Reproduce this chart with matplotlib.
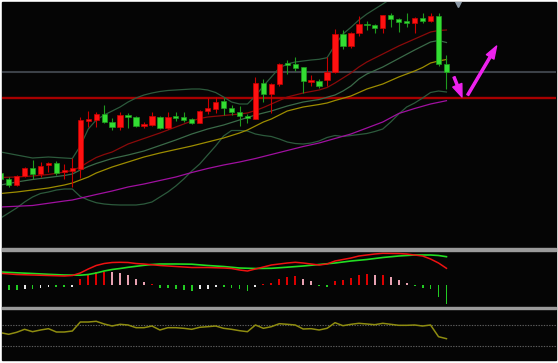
import matplotlib

matplotlib.use("Agg")
import matplotlib.pyplot as plt
import numpy as np
from matplotlib.patches import Rectangle

# --------------------------------------------------------------------------- #
# Data
# --------------------------------------------------------------------------- #
OPEN = [7.70, 7.10, 6.50, 7.40, 8.20, 7.57, 8.47, 8.70, 7.80, 7.87,
        8.13, 12.93, 13.00, 13.60, 12.83, 12.33, 13.50, 13.33, 12.40, 12.50,
        13.33, 12.17, 13.40, 13.27, 13.07, 12.73, 13.90, 14.10, 14.90, 14.20,
        13.85, 13.43, 13.10, 16.67, 15.57, 16.57, 18.67, 18.57, 18.33, 16.83,
        16.90, 17.00, 17.80, 21.57, 20.43, 21.67, 22.65, 22.47, 22.17, 23.47,
        23.07, 22.83, 22.73, 23.17, 22.90, 23.43, 18.57]
HIGH = [7.90, 7.30, 7.50, 8.30, 9.00, 8.80, 8.83, 8.90, 8.60, 9.20,
        13.30, 13.93, 13.83, 14.50, 13.20, 13.77, 13.67, 13.40, 12.83, 13.77,
        13.40, 13.83, 13.83, 13.77, 13.20, 14.00, 15.20, 15.30, 15.17, 14.50,
        14.40, 13.60, 17.33, 17.10, 16.67, 18.67, 19.05, 19.27, 18.33, 17.55,
        17.10, 19.33, 22.07, 22.00, 21.83, 23.40, 22.93, 22.60, 23.53, 23.67,
        23.17, 23.73, 23.27, 23.67, 23.73, 23.67, 19.50]
LOW = [6.90, 6.30, 6.45, 7.35, 7.10, 7.30, 7.83, 7.50, 7.10, 6.30,
       7.20, 12.27, 12.30, 12.70, 12.00, 12.00, 12.17, 12.33, 12.17, 12.43,
       12.10, 12.10, 12.93, 12.83, 12.63, 12.67, 13.60, 13.67, 13.50, 13.50,
       12.43, 12.67, 13.10, 14.83, 13.67, 16.45, 17.60, 17.90, 15.67, 16.40,
       16.20, 16.45, 17.70, 20.10, 20.20, 21.40, 22.00, 21.67, 21.67, 22.27,
       21.83, 22.27, 21.67, 22.67, 22.83, 18.43, 16.07]
CLOSE = [7.10, 6.53, 7.40, 8.20, 7.60, 8.43, 8.73, 7.73, 8.00, 8.20,
         13.00, 13.07, 13.60, 12.83, 12.33, 13.50, 13.27, 12.43, 12.57, 13.40,
         12.17, 13.33, 13.17, 13.00, 12.73, 13.93, 14.17, 14.83, 14.17, 13.83,
         13.40, 13.17, 16.67, 15.65, 16.58, 18.57, 18.53, 18.25, 16.90, 17.00,
         16.40, 17.83, 21.57, 20.43, 21.73, 22.60, 22.47, 22.17, 23.47, 23.07,
         22.77, 22.70, 23.17, 22.87, 23.40, 18.57, 17.83]

# Bollinger bands (candle index, price)
BB_UP_IDX = [0, 2, 4, 6, 8, 9, 10, 11, 12, 13, 14, 15, 16, 17, 18, 19, 20, 21,
             22, 23, 24, 25, 26, 27, 28, 29, 30, 31, 32, 33, 34, 35, 36, 37, 38,
             39, 40, 41, 42, 43, 44, 45, 46, 47, 48, 49, 50]
BB_UP = [9.80, 9.50, 9.20, 9.30, 9.20, 9.15, 10.40, 12.10, 13.00, 13.50, 13.90,
         14.30, 14.80, 15.20, 15.50, 15.70, 15.85, 15.95, 16.00, 16.05, 16.10,
         16.10, 16.00, 15.75, 15.30, 14.80, 14.60, 14.60, 15.40, 16.40, 17.30,
         18.20, 18.60, 18.80, 18.90, 19.00, 19.07, 19.23, 20.50, 21.60, 22.27,
         23.00, 23.60, 24.10, 24.60, 25.10, 25.50]
BB_LOW_IDX = list(range(57))
BB_LOW = [3.20, 3.70, 4.20, 4.80, 5.30, 5.65, 5.80, 6.00, 6.10, 6.10,
          5.35, 5.00, 4.73, 4.60, 4.53, 4.50, 4.50, 4.50, 4.60, 4.80,
          5.30, 5.80, 6.40, 7.10, 7.90, 8.60, 9.50, 10.40, 11.40, 11.95,
          11.95, 11.90, 11.60, 11.45, 11.35, 11.10, 10.80, 10.65, 10.60, 10.70,
          10.90, 11.25, 11.45, 11.35, 11.45, 11.55, 11.65, 11.85, 12.10, 12.80,
          13.60, 14.30, 14.70, 15.20, 15.75, 15.90, 15.80]
BB_MID_IDX = [0, 2, 4, 6, 8, 9, 10, 11, 12, 13, 14, 16, 18, 20, 22, 24, 26, 28,
              30, 32, 34, 36, 38, 40, 42, 43, 44, 45, 46, 48, 50, 52, 54, 55, 56]
BB_MID = [6.50, 6.80, 7.05, 7.25, 7.45, 7.60, 8.00, 8.35, 8.65, 8.90, 9.15,
          9.50, 9.90, 10.45, 11.00, 11.60, 12.10, 12.50, 13.00, 13.50, 13.90,
          14.40, 14.80, 15.05, 15.50, 15.90, 16.40, 17.10, 17.60, 18.30, 19.15,
          20.00, 20.80, 20.95, 20.75]

# moving averages (candle index, price)
MA_RED_IDX = [0, 2, 4, 6, 8, 9, 10, 11, 12, 13, 14, 16, 18, 20, 22, 24, 25, 26,
              28, 30, 31, 32, 33, 34, 36, 38, 40, 41, 42, 43, 44, 45, 46, 47, 48,
              50, 52, 54, 55, 56]
MA_RED = [7.25, 7.30, 7.40, 7.55, 7.80, 7.95, 8.30, 8.80, 9.25, 9.55, 9.80,
          10.60, 11.15, 11.70, 12.30, 12.90, 13.15, 13.30, 13.45, 13.60, 13.70,
          13.95, 14.25, 14.60, 15.30, 15.70, 16.00, 16.25, 16.70, 17.20, 17.70,
          18.30, 18.80, 19.20, 19.60, 20.40, 21.10, 21.80, 21.95, 22.00]
MA_YEL_IDX = [0, 2, 4, 6, 8, 9, 10, 11, 12, 14, 16, 18, 20, 22, 24, 26, 28, 30,
              31, 32, 33, 34, 35, 36, 38, 40, 41, 42, 44, 46, 48, 50, 52, 53, 54,
              55, 56]
MA_YEL = [5.65, 5.80, 6.00, 6.20, 6.50, 6.70, 7.00, 7.30, 7.70, 8.30, 8.80,
          9.30, 9.70, 10.05, 10.40, 10.80, 11.20, 11.70, 12.00, 12.40, 12.80,
          13.10, 13.50, 13.90, 14.30, 14.55, 14.70, 14.95, 15.40, 16.10, 16.60,
          17.30, 17.90, 18.25, 18.70, 18.90, 19.05]
MA_MAG_IDX = [0, 4, 8, 9, 12, 14, 16, 18, 20, 22, 24, 26, 28, 30, 32, 34, 36,
              38, 40, 42, 44, 46, 48, 50, 52, 54, 56]
MA_MAG = [4.30, 4.45, 4.90, 5.00, 5.55, 5.90, 6.30, 6.60, 6.95, 7.30, 7.75,
          8.15, 8.50, 8.80, 9.15, 9.55, 9.95, 10.35, 10.70, 11.15, 11.60, 12.20,
          12.80, 13.65, 14.15, 14.60, 14.93]

LEVEL_GREY = 17.83
LEVEL_RED = 15.22

# MACD
DIF_IDX = [0, 2, 4, 6, 8, 9, 10, 11, 12, 13, 14, 15, 16, 17, 18, 20, 22, 24, 26,
           28, 29, 30, 31, 32, 33, 34, 35, 36, 37, 38, 39, 40, 41, 42, 43, 44,
           45, 46, 47, 48, 50, 51, 52, 53, 54, 55, 56]
DIF = [0.117, 0.105, 0.100, 0.095, 0.090, 0.095, 0.120, 0.160, 0.195, 0.215,
       0.225, 0.227, 0.225, 0.215, 0.210, 0.195, 0.185, 0.175, 0.175, 0.170,
       0.165, 0.150, 0.140, 0.160, 0.180, 0.200, 0.210, 0.220, 0.227, 0.220,
       0.210, 0.200, 0.210, 0.240, 0.255, 0.270, 0.290, 0.300, 0.310, 0.317,
       0.315, 0.310, 0.300, 0.290, 0.260, 0.220, 0.167]
DEA_IDX = [0, 2, 4, 6, 8, 10, 11, 12, 13, 14, 15, 16, 17, 18, 19, 20, 22, 24,
           26, 28, 30, 32, 34, 36, 38, 40, 42, 44, 46, 48, 50, 52, 54, 55, 56]
DEA = [0.130, 0.122, 0.115, 0.107, 0.100, 0.098, 0.105, 0.120, 0.140, 0.155,
       0.165, 0.177, 0.187, 0.197, 0.205, 0.210, 0.210, 0.208, 0.195, 0.185,
       0.170, 0.165, 0.167, 0.178, 0.190, 0.205, 0.220, 0.240, 0.255, 0.275,
       0.290, 0.300, 0.300, 0.295, 0.283]
HIST_IDX = list(range(1, 57))
HIST = [-0.050, -0.050, -0.043, -0.043, -0.033, -0.017, -0.023, -0.023, -0.023,
        0.057, 0.100, 0.133, 0.127, 0.127, 0.123, 0.100, 0.060, 0.027, 0.010,
        -0.033, -0.033, -0.040, -0.050, -0.057, -0.043, -0.037, -0.017, -0.017,
        -0.033, -0.043, -0.057, -0.017, 0.010, 0.023, 0.057, 0.083, 0.090,
        0.060, 0.040, -0.007, -0.017, 0.040, 0.050, 0.073, 0.100, 0.110, 0.100,
        0.100, 0.077, 0.050, 0.023, -0.010, -0.033, -0.043, -0.123, -0.193]
HIST_KIND = "ggwgwwggwrrrrppppprgggggwwwggggwrrrrrppggrrrrrprpppggggg"

# lower oscillator
OSC = [57.7, 53.0, 58.8, 67.5, 60.6, 65.5, 69.3, 59.7, 59.7, 62.6,
       88.7, 88.7, 90.7, 82.9, 77.1, 82.0, 80.0, 72.2, 72.2, 77.1,
       65.5, 72.2, 72.2, 70.4, 67.5, 73.3, 75.1, 77.1, 70.4, 67.5,
       63.5, 60.6, 80.0, 70.4, 75.1, 83.8, 82.0, 80.0, 68.4, 69.3,
       65.5, 70.4, 86.7, 78.0, 82.0, 84.9, 82.9, 80.9, 84.9, 82.0,
       79.1, 79.1, 80.0, 77.1, 80.0, 46.1, 40.3]
OSC_LEVELS = [80, 20]

# annotation arrows (index, price) and top marker
ARROW_DOWN = ((56.95, 17.3), (57.95, 15.3))
ARROW_UP = ((58.67, 15.5), (62.3, 20.4))
TOP_MARK = (57.45, 24.75)

# --------------------------------------------------------------------------- #
# Theme
# --------------------------------------------------------------------------- #
BG = "#050505"
SEP = "#9b9b9b"
UP_FACE, UP_EDGE = "#ff1111", "#c80000"
DN_FACE, DN_EDGE = "#33dd33", "#1e9a1e"
BB_COL = "#2c5a3c"
BB_MID_COL = "#3a6a48"
MA_RED_COL = "#8a0a0a"
MA_YEL_COL = "#9c8c00"
MA_MAG_COL = "#a010a0"
MAGENTA = "#ee22ee"
HIST_COLORS = {"g": "#22cc22", "w": "#e8e8e8", "r": "#dd0000", "p": "#e8a2b2"}

W, H = 558, 363
X0_PX, STEP_PX = 0.7, 7.96


def px_axes(fig, top, bottom):
    ax = fig.add_axes([2 / W, (H - bottom) / H, 554 / W, (bottom - top) / H])
    ax.set_axis_off()
    ax.set_xlim((2 - X0_PX) / STEP_PX, (556 - X0_PX) / STEP_PX)
    return ax


fig = plt.figure(figsize=(W / 100, H / 100), dpi=100, facecolor="white")
fig.add_artist(Rectangle((2 / W, 3 / H), 554 / W, 358 / H, transform=fig.transFigure,
                         color=BG, zorder=-5))
for y0, y1 in [(248.3, 250.7), (306.8, 309.1)]:
    fig.add_artist(Rectangle((2 / W, (H - y1) / H), 554 / W, (y1 - y0) / H,
                             transform=fig.transFigure, color=SEP, zorder=1))

# ---- main price panel ----
ax = px_axes(fig, 2, 248)
ax.set_ylim(0.2, 24.8)

ax.axhline(LEVEL_GREY, color="#3c4148", lw=1.5, zorder=1)
ax.axhline(LEVEL_RED, color="#a80000", lw=1.7, zorder=1)

ax.plot(BB_UP_IDX, BB_UP, color=BB_COL, lw=0.9, zorder=2)
ax.plot(BB_LOW_IDX, BB_LOW, color=BB_COL, lw=0.9, zorder=2)
ax.plot(BB_MID_IDX, BB_MID, color=BB_MID_COL, lw=0.9, zorder=2)
ax.plot(MA_RED_IDX, MA_RED, color=MA_RED_COL, lw=0.9, zorder=2)
ax.plot(MA_YEL_IDX, MA_YEL, color=MA_YEL_COL, lw=0.9, zorder=2)
ax.plot(MA_MAG_IDX, MA_MAG, color=MA_MAG_COL, lw=0.9, zorder=2)

o, h, l, c = map(np.asarray, (OPEN, HIGH, LOW, CLOSE))
idx = np.arange(len(o))
up = c >= o
ax.vlines(idx[up], l[up], h[up], color=UP_EDGE, lw=0.8, zorder=3)
ax.vlines(idx[~up], l[~up], h[~up], color=DN_EDGE, lw=0.8, zorder=3)
body_lo = np.minimum(o, c)
body_h = np.maximum(np.abs(c - o), 0.15)
ax.bar(idx[up], body_h[up], bottom=body_lo[up], width=0.67, color=UP_FACE,
       edgecolor=UP_EDGE, linewidth=0.5, zorder=4)
ax.bar(idx[~up], body_h[~up], bottom=body_lo[~up], width=0.67, color=DN_FACE,
       edgecolor=DN_EDGE, linewidth=0.5, zorder=4)

for tail, tip, hw in [(ARROW_DOWN[0], ARROW_DOWN[1], 1.0), (ARROW_UP[0], ARROW_UP[1], 0.9)]:
    ax.annotate("", xy=tip, xytext=tail,
                arrowprops=dict(arrowstyle=f"simple,head_length=1.3,head_width={hw},tail_width=0.22",
                                color=MAGENTA, shrinkA=0, shrinkB=0, mutation_scale=7),
                zorder=5)
ax.plot([TOP_MARK[0]], [TOP_MARK[1]], marker="v", ms=6, color="#8c99a6", zorder=5)

# ---- MACD panel ----
am = px_axes(fig, 251, 307)
am.set_ylim(-0.22, 0.34)
am.bar(HIST_IDX, HIST, width=0.24, color=[HIST_COLORS[k] for k in HIST_KIND], zorder=2)
am.plot(DEA_IDX, DEA, color="#22dd22", lw=1.2, zorder=3)
am.plot(DIF_IDX, DIF, color="#ee1111", lw=1.1, zorder=3)

# ---- oscillator panel ----
ao = px_axes(fig, 309, 360)
ao.set_ylim(-21.5, 126.4)
for lv in OSC_LEVELS:
    ao.axhline(lv, color="#5e5e5e", lw=0.8, ls=(0, (1.2, 1.2)), zorder=1)
ao.plot(idx, OSC, color="#8e8c10", lw=1.1, zorder=2)

fig.savefig("out.png", dpi=100, facecolor="white")
